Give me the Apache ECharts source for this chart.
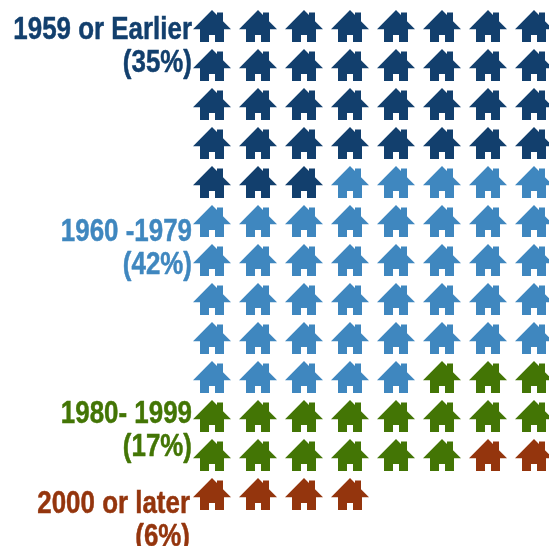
<!DOCTYPE html>
<html><head><meta charset="utf-8">
<style>html,body{margin:0;padding:0;background:#fff;overflow:hidden}#c{width:549px;height:546px}</style>
<script src="https://cdn.jsdelivr.net/npm/echarts@6/dist/echarts.min.js"></script>
</head><body><div id="c"></div>
<script>
const categories = ['1959 or Earlier', '1960 -1979', '1980- 1999', '2000 or later'];
const percents = [35, 42, 17, 6];
const colors = ['#123f6d', '#3f87bf', '#437505', '#94350d'];
const labelTops = [30, 232, 414, 504];
const perRow = 8;
const house = 'path://M19 0L24 5L24 2.5L30 2.5L30 11L38 19L31 19L31 31.5L22 31.5L22 24.5L16 24.5L16 31.5L7 31.5L7 19L0 19Z';

let idx = 0;
const series = categories.map((name, i) => {
  const data = [];
  for (let k = 0; k < percents[i]; k++, idx++) data.push([idx % perRow, Math.floor(idx / perRow)]);
  return {
    type: 'scatter', name, data, symbol: house, symbolSize: [38, 32], clip: false,
    itemStyle: { color: colors[i], opacity: 1 }, silent: true
  };
});
const textStyle = (c) => ({
  fill: c, stroke: c, lineWidth: 0.5, fontFamily: 'Liberation Sans', fontWeight: 'bold', fontSize: 32,
  textAlign: 'right', textVerticalAlign: 'middle'
});
const graphic = [];
categories.forEach((name, i) => {
  const right = i === 3 ? 190 : 192;
  graphic.push({ type: 'text', x: right, y: labelTops[i], scaleX: 0.81, style: { text: name, ...textStyle(colors[i]) } });
  graphic.push({ type: 'text', x: right, y: labelTops[i] + 33, scaleX: 0.81, style: { text: '(' + percents[i] + '%)', ...textStyle(colors[i]) } });
});
const chart = echarts.init(document.getElementById('c'), null, { renderer: 'canvas' });
chart.setOption({
  animation: false,
  grid: { left: 212, top: 26, width: 322, height: 468 },
  xAxis: { type: 'value', min: 0, max: 7, show: false },
  yAxis: { type: 'value', min: 0, max: 12, inverse: true, show: false },
  series, graphic
});
</script></body></html>
